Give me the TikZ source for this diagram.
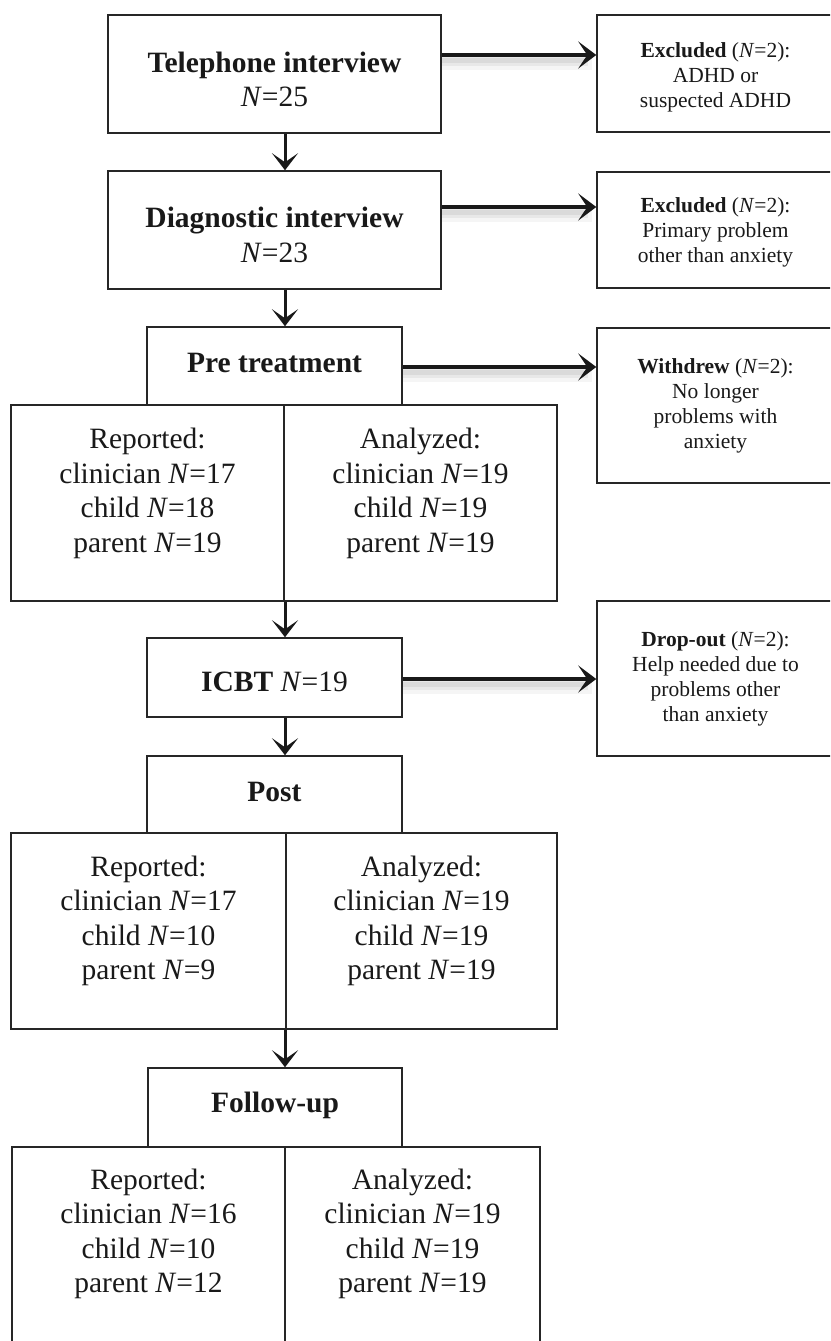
\documentclass[tikz,border=0pt]{standalone}
\usepackage{fontspec}
\setmainfont{Liberation Serif}
\usetikzlibrary{arrows.meta,calc}
\begin{document}
\begin{tikzpicture}[x=1pt,y=-1pt,
  box/.style={draw=black!85, line width=1.5pt, inner sep=0pt, fill=white},
  big/.style={font=\fontsize{29.5}{34.5}\selectfont, align=center, inner sep=0pt, text=black!90},
  small/.style={font=\fontsize{21.5}{25}\selectfont, align=center, inner sep=0pt, text=black!90},
  arr/.style={draw=black!90, line width=3.5pt, -{Stealth[length=18pt,width=27pt,inset=9pt]}},
  varr/.style={draw=black!90, line width=3pt, -{Stealth[length=17pt,width=26pt,inset=9pt]}},
  shdA/.style={draw=black, line width=16pt, opacity=0.04},
  shdB/.style={draw=black, line width=10pt, opacity=0.05},
  shdC/.style={draw=black, line width=5pt, opacity=0.06}
]
\clip (0,0) rectangle (830,1341);
\fill[white] (0,0) rectangle (830,1341);

% coordinates for connectors
\coordinate (vx) at (285,0);
\coordinate (h1) at (0,55);
\coordinate (h2) at (0,207);
\coordinate (h3) at (0,367);
\coordinate (h4) at (0,679);

% main boxes
\node[box, minimum width=333pt, minimum height=118pt] (tel) at (274.5,74) {};
\node[box, minimum width=237pt, minimum height=117pt] (ex1) at (715.5,73.5) {};
\node[box, minimum width=333pt, minimum height=118pt] (diag) at (274.5,230) {};
\node[box, minimum width=237pt, minimum height=116pt] (ex2) at (715.5,230) {};
\node[box, minimum width=255pt, minimum height=78pt] (pre) at (274.5,366) {};
\node[box, minimum width=237pt, minimum height=155pt] (wd) at (715.5,405.5) {};
\node[box, minimum width=273pt, minimum height=196pt] (rep1l) at (147.5,503) {};
\node[box, minimum width=273pt, minimum height=196pt] (rep1r) at (420.5,503) {};
\node[box, minimum width=255pt, minimum height=79pt] (icbt) at (274.5,677.5) {};
\node[box, minimum width=237pt, minimum height=155pt] (do) at (715.5,678.5) {};
\node[box, minimum width=255pt, minimum height=77pt] (post) at (274.5,794.5) {};
\node[box, minimum width=275pt, minimum height=196pt] (rep2l) at (148.5,931) {};
\node[box, minimum width=271pt, minimum height=196pt] (rep2r) at (421.5,931) {};
\node[box, minimum width=254pt, minimum height=79pt] (fu) at (275,1107.5) {};
\node[box, minimum width=273pt, minimum height=223pt] (rep3l) at (148.5,1258.5) {};
\node[box, minimum width=255pt, minimum height=223pt] (rep3r) at (412.5,1258.5) {};

% texts
\node[big] (telt) at (274.5,79.5) {\textbf{Telephone interview}\\\textit{N}=25};
\node[small] (ex1t) at (715.5,77) {\textbf{Excluded} (\textit{N}=2):\\ADHD or\\suspected ADHD};
\node[big] (diagt) at (274.5,235) {\textbf{Diagnostic interview}\\\textit{N}=23};
\node[small] (ex2t) at (715.5,232.5) {\textbf{Excluded} (\textit{N}=2):\\Primary problem\\other than anxiety};
\node[big] (pret) at (274.5,363) {\textbf{Pre treatment}};
\node[small] (wdt) at (715.5,405.5) {\textbf{Withdrew} (\textit{N}=2):\\No longer\\problems with\\anxiety};
\node[big] (rep1lt) at (147.5,493.5) {Reported:\\clinician \textit{N}=17\\child \textit{N}=18\\parent \textit{N}=19};
\node[big] (rep1rt) at (420.5,493.5) {Analyzed:\\clinician \textit{N}=19\\child \textit{N}=19\\parent \textit{N}=19};
\node[big] (icbtt) at (274.5,682) {\textbf{ICBT} \textit{N}=19};
\node[small] (dot) at (715.5,679) {\textbf{Drop-out} (\textit{N}=2):\\Help needed due to\\problems other\\than anxiety};
\node[big] (postt) at (274.5,792) {\textbf{Post}};
\node[big] (rep2lt) at (148.5,921) {Reported:\\clinician \textit{N}=17\\child \textit{N}=10\\parent \textit{N}=9};
\node[big] (rep2rt) at (421.5,921) {Analyzed:\\clinician \textit{N}=19\\child \textit{N}=19\\parent \textit{N}=19};
\node[big] (fut) at (275,1105) {\textbf{Follow-up}};
\node[big] (rep3lt) at (148.5,1234) {Reported:\\clinician \textit{N}=16\\child \textit{N}=10\\parent \textit{N}=12};
\node[big] (rep3rt) at (412.5,1234) {Analyzed:\\clinician \textit{N}=19\\child \textit{N}=19\\parent \textit{N}=19};

% arrow shadows
\foreach \a/\b/\h in {tel/ex1/h1, diag/ex2/h2, pre/wd/h3, icbt/do/h4}{
  \path[shdA] ([yshift=-7pt]\a.east |- \h) -- ([xshift=-4pt,yshift=-7pt]\b.west |- \h);
  \path[shdB] ([yshift=-6pt]\a.east |- \h) -- ([xshift=-8pt,yshift=-6pt]\b.west |- \h);
  \path[shdC] ([yshift=-5pt]\a.east |- \h) -- ([xshift=-12pt,yshift=-5pt]\b.west |- \h);
}

% horizontal arrows
\draw[arr] (tel.east |- h1) -- (ex1.west |- h1);
\draw[arr] (diag.east |- h2) -- (ex2.west |- h2);
\draw[arr] (pre.east |- h3) -- (wd.west |- h3);
\draw[arr] (icbt.east |- h4) -- (do.west |- h4);

% vertical arrows
\draw[varr] (tel.south -| vx) -- (diag.north -| vx);
\draw[varr] (diag.south -| vx) -- (pre.north -| vx);
\draw[varr] (rep1l.south -| vx) -- (icbt.north -| vx);
\draw[varr] (icbt.south -| vx) -- (post.north -| vx);
\draw[varr] (rep2l.south -| vx) -- (fu.north -| vx);
\end{tikzpicture}
\end{document}
